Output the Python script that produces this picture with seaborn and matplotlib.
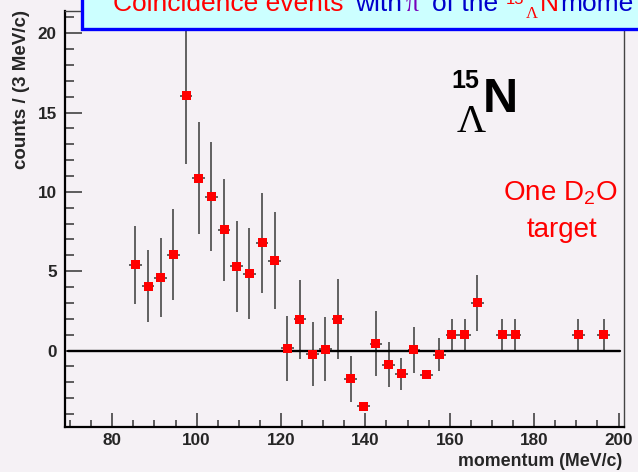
import matplotlib
matplotlib.use("Agg")
import matplotlib.pyplot as plt
import seaborn as sns
import pandas as pd
from matplotlib.patches import Rectangle
from matplotlib.ticker import MultipleLocator

# ---------------- data ----------------
momentum = [85.5, 88.5, 91.5, 94.5, 97.5, 100.5, 103.5, 106.5, 109.5, 112.5,
            115.5, 118.5, 121.5, 124.5, 127.5, 130.5, 133.5, 136.5, 139.5, 142.5,
            145.5, 148.5, 151.5, 154.5, 157.5, 160.5, 163.5, 166.5, 172.5, 175.5,
            190.5, 196.5]
counts = [5.4, 4.05, 4.6, 6.05, 16.05, 10.87, 9.7, 7.6, 5.3, 4.83,
          6.8, 5.67, 0.15, 1.96, -0.23, 0.08, 1.98, -1.79, -3.5, 0.42,
          -0.9, -1.46, 0.04, -1.54, -0.27, 1.0, 1.0, 3.02, 1.0, 1.0,
          1.0, 1.0]
count_err = [2.45, 2.27, 2.48, 2.85, 4.3, 3.54, 3.45, 3.2, 2.85, 2.87,
             3.15, 3.05, 2.05, 2.5, 2.03, 2.03, 2.5, 1.45, 0.0, 2.05,
             1.43, 1.02, 1.43, 0.0, 1.05, 1.0, 1.0, 1.77, 1.0, 1.0,
             1.0, 1.0]
bin_half_width = 1.5
zero_line_x = [69.5, 200.3]
x_ticks = [80, 100, 120, 140, 160, 180, 200]
y_ticks = [0, 5, 10, 15, 20]

df = pd.DataFrame({"momentum": momentum, "counts": counts, "err": count_err})

# ---------------- style ----------------
sns.set_style("ticks")
BG = "#F5F1F5"
plt.rcParams["font.family"] = ["Liberation Sans", "DejaVu Sans"]
plt.rcParams["mathtext.fontset"] = "custom"
plt.rcParams["mathtext.rm"] = "Liberation Sans"

W, H = 638, 472
fig = plt.figure(figsize=(W / 100, H / 100), dpi=100, facecolor=BG)

def fx(px):
    return px / W

def fy(py):
    return 1 - py / H

ax_l, ax_r, ax_t, ax_b = 65, 624, 11, 427
ax = fig.add_axes([fx(ax_l), fy(ax_b), fx(ax_r - ax_l), (ax_b - ax_t) / H])
ax.set_facecolor(BG)

# error bars then markers
ax.errorbar(df["momentum"], df["counts"], yerr=df["err"], xerr=bin_half_width,
            fmt="none", ecolor="#555555", elinewidth=1.3, capsize=0, zorder=2)
ax.plot(zero_line_x, [0, 0], color="black", lw=1.7, zorder=3)
sns.scatterplot(data=df, x="momentum", y="counts", marker="s", color="#FF0000",
                s=42, edgecolor="none", ax=ax, zorder=4, legend=False)

ax.set_xlim(68.8, 201.3)
ax.set_ylim(-4.82, 21.4)
ax.set_xticks(x_ticks)
ax.set_yticks(y_ticks)
ax.xaxis.set_minor_locator(MultipleLocator(5))
ax.yaxis.set_minor_locator(MultipleLocator(1))

ax.tick_params(axis="x", which="major", direction="in", length=10, width=1.1,
               color="#333333", pad=4, labelsize=12.3)
ax.tick_params(axis="x", which="minor", direction="in", length=5, width=1.1,
               color="#333333")
ax.tick_params(axis="y", which="major", direction="in", length=12, width=1.1,
               color="#333333", pad=6, labelsize=12.3)
ax.tick_params(axis="y", which="minor", direction="in", length=6.5, width=1.1,
               color="#333333")
for lab in ax.get_xticklabels() + ax.get_yticklabels():
    lab.set_fontweight("bold")

for side in ["left", "bottom"]:
    ax.spines[side].set_linewidth(1.6)
    ax.spines[side].set_color("black")
for side in ["top", "right"]:
    ax.spines[side].set_visible(True)
    ax.spines[side].set_linewidth(1.0)
    ax.spines[side].set_color("#444444")

ax.set_xlabel("momentum (MeV/c)", fontsize=12.8, fontweight="bold", ha="right", va="center")
ax.xaxis.set_label_coords((622 - ax_l) / (ax_r - ax_l), -(461 - ax_b) / (ax_b - ax_t))
ax.set_ylabel("counts / (3 MeV/c)", fontsize=13.5, fontweight="bold", loc="top")
ax.yaxis.set_label_coords(-(ax_l - 30) / (ax_r - ax_l), 1 + 1 / (ax_b - ax_t))

# ---------------- annotations ----------------
fig.text(fx(451), fy(88), "15", fontsize=18, fontweight="bold", color="black",
         ha="left", va="baseline")
fig.text(fx(483), fy(112), "N", fontsize=35, fontweight="bold", color="black",
         ha="left", va="baseline")
fig.text(fx(457), fy(132), "Λ", fontsize=29, color="black", ha="left", va="baseline",
         family=["Liberation Serif", "DejaVu Serif"])

fig.text(fx(560), fy(200), r"One D$_\mathregular{2}$O", fontsize=20, color="#FF0000",
         ha="center", va="baseline")
fig.text(fx(562), fy(237), "target", fontsize=20, color="#FF0000",
         ha="center", va="baseline")

# ---------------- top banner ----------------
box = Rectangle((fx(81.5), fy(29)), fx(W + 20 - 81.5), 40 / H, transform=fig.transFigure,
                facecolor="#CCFFFF", edgecolor="#0000FF", linewidth=2.4,
                zorder=10, clip_on=False)
fig.patches.append(box)

tfs = 19
base = fy(11)
segs = [
    (113, "Coincidence events", "#FF0000", base, tfs, None),
    (355, "with", "#0000CC", base, tfs, None),
    (406, "π", "#7700BB", base, tfs, ["Liberation Serif", "DejaVu Serif"]),
    (419, "⁻", "#7700BB", fy(3), 10, None),
    (432, "of the", "#0000CC", base, tfs, None),
    (506, "15", "#FF0000", fy(4), 12, None),
    (526, "Λ", "#FF0000", fy(18.5), 12, ["Liberation Serif", "DejaVu Serif"]),
    (540, "N", "#FF0000", base, tfs, None),
    (560, "mome", "#0000CC", base, tfs, None),
]
for px, s, c, yb, fs, fam in segs:
    kw = {}
    if fam:
        kw["family"] = fam
    fig.text(fx(px), yb, s, color=c, fontsize=fs, ha="left", va="baseline",
             zorder=11, **kw)

fig.savefig("out.png", dpi=100, facecolor=BG)
